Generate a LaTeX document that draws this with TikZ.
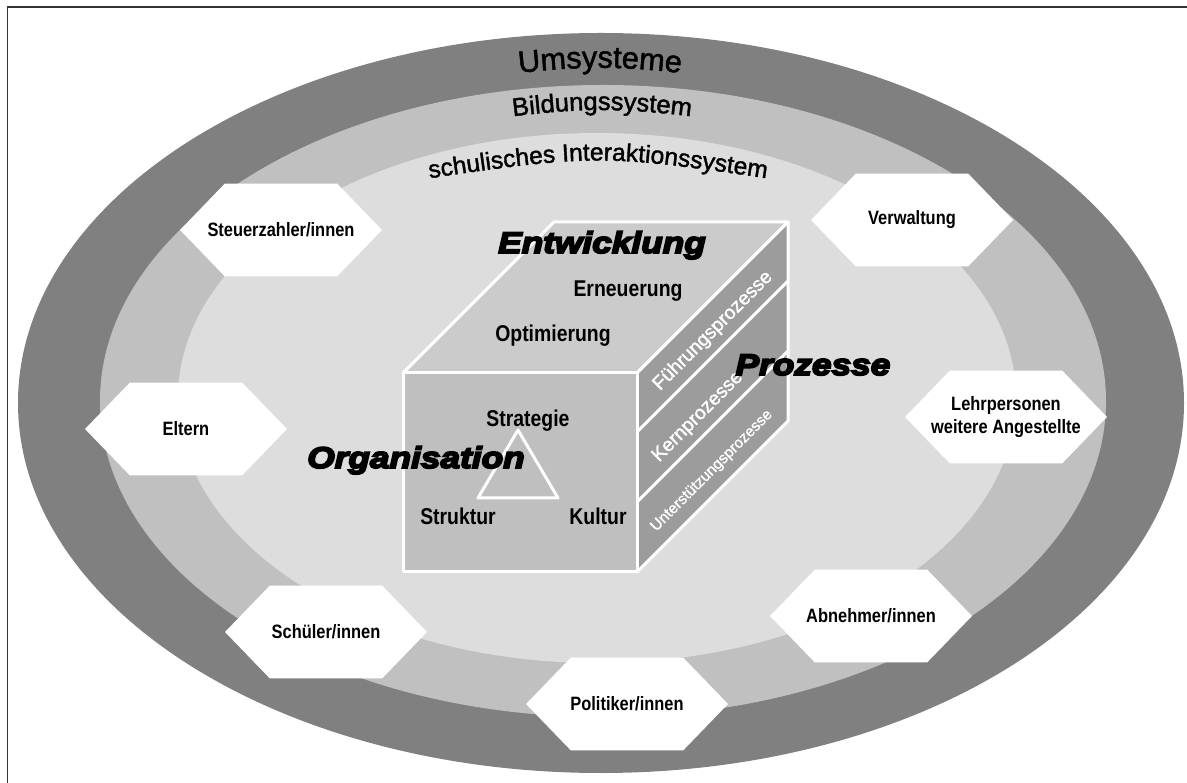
\documentclass[tikz,border=0pt]{standalone}
\usepackage{fontspec}
\setmainfont{Liberation Sans}
\newfontfamily\narrowfont[FakeStretch=0.85]{Liberation Sans}
\newfontfamily\ringfont[FakeBold=1.5]{Liberation Sans}
\newfontfamily\heavyfont[UprightFont={* Bold Italic}, FakeStretch=1.18, FakeBold=6]{Liberation Sans}
\usepackage{tikz}
\usetikzlibrary{shapes.symbols, decorations.text, calc}

\definecolor{ringout}{HTML}{808080}
\definecolor{ringmid}{HTML}{C0C0C0}
\definecolor{ringin}{HTML}{DDDDDD}
\definecolor{cubetop}{HTML}{CBCBCB}
\definecolor{cubefront}{HTML}{BFBFBF}
\definecolor{cubeside}{HTML}{9C9C9C}

\begin{document}
\begin{tikzpicture}[
    x=0.02cm, y=-0.02cm,
    hexa/.style={signal, signal to=west and east, signal pointer angle=92, fill=white, minimum width=4.04cm, minimum height=1.86cm, inner ysep=0pt, inner xsep=-2cm, font=\narrowfont\bfseries\fontsize{11}{13}\selectfont, align=center},
    face/.style={draw=white, line width=0.06cm, line join=round},
    cubelabel/.style={anchor=base, font=\narrowfont\bfseries\fontsize{13}{15}\selectfont},
    heavy/.style={anchor=base, font=\heavyfont\fontsize{17}{19}\selectfont},
    procs/.style={rotate=45, text=white, font=\ringfont\fontsize{11}{13}\selectfont}
]
    \useasboundingbox (0,0) rectangle (1187,783);
    \draw[line width=0.04cm, black!80] (7.5,783) -- (7.5,7.5) -- (1187,7.5);

    % Systemringe
    \fill[ringout] (601,403) ellipse [x radius=583, y radius=370];
    \fill[ringmid] (603,401) ellipse [x radius=503, y radius=316];
    \fill[ringin] (597,398) ellipse [x radius=419, y radius=265];

    \path[decorate, decoration={text along path, text align=center,
        text={|\ringfont\fontsize{17.5}{20}\selectfont|Umsysteme}}]
        (440,82) .. controls (600,63) .. (760,82);
    \path[decorate, decoration={text along path, text align=center,
        text={|\ringfont\fontsize{14.5}{16}\selectfont|Bildungssystem}}]
        (422,128) .. controls (602,104) .. (782,128);
    \path[decorate, decoration={text along path, text align=center,
        text={|\ringfont\fontsize{14}{16}\selectfont|schulisches Interaktionssystem}}]
        (398,183) .. controls (598,153) .. (798,183);

    % Anspruchsgruppen
    \node (steuer) [hexa] at (281,230) {Steuerzahler/innen};
    \node (eltern) [hexa] at (186,429) {Eltern};
    \node (schueler) [hexa] at (326,632) {Schüler/innen};
    \node (politik) [hexa] at (627,704) {Politiker/innen};
    \node (abnehmer) [hexa] at (871,616) {Abnehmer/innen};
    \node (lehr) [hexa] at (1006,417) {Lehrpersonen\\weitere Angestellte};
    \node (verw) [hexa] at (912,220) {Verwaltung};

    % Wuerfel
    \coordinate (ftl) at (403,373);
    \coordinate (ftr) at (637,373);
    \coordinate (fbr) at (637,572);
    \coordinate (fbl) at (403,572);
    \coordinate (btl) at ($(ftl)+(151,-151)$);
    \coordinate (btr) at ($(ftr)+(151,-151)$);
    \coordinate (bbr) at ($(fbr)+(151,-151)$);
    \coordinate (d1) at (637,432);
    \coordinate (d2) at (637,502);

    \filldraw[face, fill=cubetop] (ftl) -- (btl) -- (btr) -- (ftr) -- cycle;
    \filldraw[face, fill=cubeside] (ftr) -- (btr) -- (bbr) -- (fbr) -- cycle;
    \filldraw[face, fill=cubefront] (ftl) rectangle (fbr);
    \draw[face] (d1) -- ($(d1)+(151,-151)$);
    \draw[face] (d2) -- ($(d2)+(151,-151)$);

    \coordinate (tri1) at (518,430);
    \coordinate (tri2) at (478,498);
    \coordinate (tri3) at (558,498);
    \draw[face] (tri1) -- (tri2) -- (tri3) -- cycle;

    \node (erneu) [cubelabel] at (628,297) {Erneuerung};
    \node (optim) [cubelabel] at (553,342) {Optimierung};
    \node (strat) [cubelabel] at (528,427) {Strategie};
    \node (struk) [cubelabel] at (458,525) {Struktur};
    \node (kult) [cubelabel] at (598,525) {Kultur};

    \node (fuehr) [procs] at (713,331) {Führungsprozesse};
    \node (kern) [procs] at (698,417) {Kernprozesse};
    \node (unter) [procs, font=\ringfont\fontsize{8.7}{10}\selectfont] at (712,471) {Unterstützungsprozesse};

    \node (entw) [heavy] at (602,253) {Entwicklung};
    \node (proz) [heavy] at (813,375) {Prozesse};
    \node (orga) [heavy] at (416,468) {Organisation};
\end{tikzpicture}
\end{document}
